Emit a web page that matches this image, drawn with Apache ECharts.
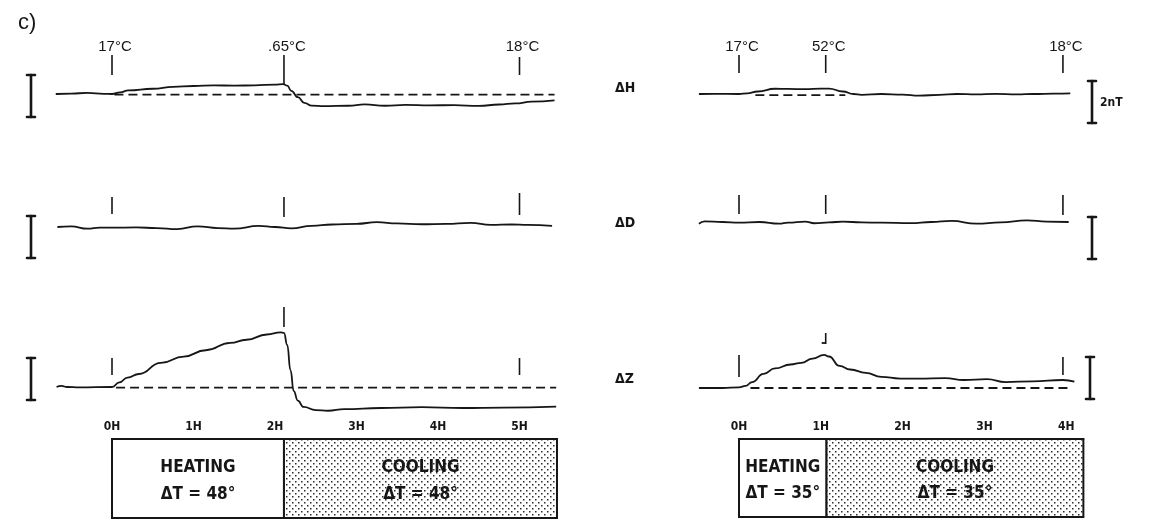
<!DOCTYPE html>
<html>
<head>
<meta charset="utf-8">
<title>Heating / cooling magnetic response</title>
<script src="https://cdn.jsdelivr.net/npm/echarts@6/dist/echarts.min.js"></script>
<style>
  html, body { margin: 0; padding: 0; background: #ffffff; }
  #chart { width: 1167px; height: 528px; }
</style>
</head>
<body>
<div id="chart"></div>
<script>
// ---------------------------------------------------------------------------
// Data: time in hours from the start of heating, field change in nT
// ---------------------------------------------------------------------------

// Left experiment (ΔT = 48°)
const leftH = [
  [-0.69, 0], [-0.5, 0.02], [-0.3, 0.05], [-0.1, 0.01], [0, 0], [0.1, 0.08], [0.2, 0.17],
  [0.5, 0.25], [0.75, 0.34], [1.0, 0.38], [1.25, 0.41], [1.5, 0.40], [1.75, 0.41],
  [2.0, 0.45], [2.1, 0.47], [2.15, 0.4], [2.2, 0.15], [2.28, -0.15], [2.36, -0.42],
  [2.45, -0.55], [2.6, -0.58], [2.9, -0.56], [3.1, -0.49], [3.35, -0.56], [3.6, -0.52],
  [3.9, -0.54], [4.2, -0.53], [4.5, -0.57], [4.75, -0.5], [4.95, -0.45], [5.15, -0.36],
  [5.43, -0.3]
];
const leftD = [
  [-0.67, 0], [-0.5, 0.03], [-0.3, -0.08], [-0.15, -0.03], [0, -0.03], [0.3, -0.02],
  [0.55, -0.05], [0.8, -0.1], [1.05, 0.03], [1.3, -0.05], [1.5, -0.08], [1.8, 0.05],
  [2.0, 0.0], [2.2, -0.07], [2.45, 0.05], [2.7, 0.12], [3.0, 0.15], [3.25, 0.23],
  [3.5, 0.17], [3.8, 0.13], [4.1, 0.15], [4.4, 0.2], [4.65, 0.1], [4.9, 0.12],
  [5.1, 0.1], [5.4, 0.05]
];
const leftZ = [
  [-0.68, 0], [-0.62, 0.05], [-0.55, 0.0], [-0.4, -0.02], [0, 0], [0.09, 0.22],
  [0.19, 0.45], [0.33, 0.62], [0.6, 1.15], [0.88, 1.45], [1.15, 1.75], [1.45, 2.1],
  [1.65, 2.25], [1.9, 2.5], [2.07, 2.6], [2.11, 2.58], [2.15, 2.0], [2.19, 0.8],
  [2.23, -0.2], [2.28, -0.65], [2.35, -0.95], [2.5, -1.1], [2.65, -1.13], [2.85, -1.05],
  [3.3, -1.0], [3.8, -0.96], [4.3, -1.0], [4.8, -0.98], [5.45, -0.93]
];
const leftHRef = [[0.03, -0.03], [5.43, -0.03]];
const leftZRef = [[0.05, -0.03], [5.45, -0.03]];
const leftMarkTimes = [0, 2.11, 5.0];
const leftMarkLabels = ['17°C', '.65°C', '18°C'];
const leftPhaseBounds = [0, 2.11, 5.46];
const leftDeltaT = 48;
const leftHourLabels = ['0H', '1H', '2H', '3H', '4H', '5H'];

// Right experiment (ΔT = 35°)
const rightH = [
  [-0.49, 0], [-0.3, 0.01], [0, 0], [0.1, 0.03], [0.23, 0.12], [0.44, 0.25], [0.6, 0.24],
  [0.81, 0.23], [1.0, 0.26], [1.1, 0.26], [1.27, 0.12], [1.4, 0.0], [1.5, -0.04],
  [1.74, 0.0], [2.0, -0.03], [2.2, -0.08], [2.45, -0.04], [2.66, 0.0], [2.9, -0.02],
  [3.13, 0.01], [3.4, -0.02], [3.6, 0.0], [3.85, 0.02], [4.05, 0.03]
];
const rightD = [
  [-0.49, -0.08], [-0.42, 0.03], [-0.2, 0.0], [0, -0.03], [0.25, 0.0], [0.49, -0.08],
  [0.6, -0.03], [0.81, 0.02], [0.92, -0.06], [1.1, -0.02], [1.27, 0.02], [1.5, -0.02],
  [1.74, -0.03], [2.1, -0.05], [2.35, 0.0], [2.6, 0.05], [2.9, -0.08], [3.2, -0.02],
  [3.52, 0.08], [3.76, 0.02], [4.03, 0.0]
];
const rightZ = [
  [-0.49, 0], [-0.2, 0], [0, 0.03], [0.08, 0.1], [0.16, 0.28], [0.3, 0.67], [0.44, 0.93],
  [0.63, 1.12], [0.76, 1.2], [0.9, 1.4], [1.04, 1.58], [1.1, 1.5], [1.23, 1.05],
  [1.36, 0.88], [1.55, 0.72], [1.74, 0.53], [1.97, 0.45], [2.2, 0.45], [2.52, 0.47],
  [2.75, 0.38], [3.03, 0.42], [3.26, 0.28], [3.59, 0.32], [3.96, 0.38], [4.1, 0.3]
];
const rightHRef = [[0.2, -0.05], [1.3, -0.05]];
const rightZRef = [[0.14, 0], [4.03, 0]];
const rightMarkTimes = [0, 1.06, 3.96];
const rightMarkLabels = ['17°C', '52°C', '18°C'];
const rightPhaseBounds = [0, 1.07, 4.21];
const rightDeltaT = 35;
const rightHourLabels = ['0H', '1H', '2H', '3H', '4H'];

const phaseNames = ['HEATING', 'COOLING'];
const rowNames = ['ΔH', 'ΔD', 'ΔZ'];
const scaleBarNT = 2;
const scaleBarLabel = '2nT';

// ---------------------------------------------------------------------------
// Layout and styling
// ---------------------------------------------------------------------------
const INK = '#161616';
const PX_PER_NT = 21;
const SANS = '"Liberation Sans", Arial, sans-serif';
const COND = '"DejaVu Sans Condensed", "DejaVu Sans", sans-serif';

const panels = [
  {
    x0: 112, pxPerHour: 81.5, xMin: -0.75, xMax: 5.5, barX: 31,
    traces: [leftH, leftD, leftZ], refs: [leftHRef, null, leftZRef],
    markTimes: leftMarkTimes, markLabels: leftMarkLabels,
    phases: leftPhaseBounds, deltaT: leftDeltaT, hourLabels: leftHourLabels,
    rows: [
      { base: 94, yMin: -1.5, yMax: 2.5, marks: [[39, 19], [39, 9], [37, 19]], barBelow: 23 },
      { base: 227, yMin: -2, yMax: 2, marks: [[30, 13], [30, 10], [34, 12]], barBelow: 31 },
      { base: 387, yMin: -1.5, yMax: 3, marks: [[29, 12], [80, 60], [29, 12]], barBelow: 13 }
    ],
    boxTop: 439, boxHeight: 79
  },
  {
    x0: 739, pxPerHour: 81.8, xMin: -0.55, xMax: 4.25, barX: 1092,
    traces: [rightH, rightD, rightZ], refs: [rightHRef, null, rightZRef],
    markTimes: rightMarkTimes, markLabels: rightMarkLabels,
    phases: rightPhaseBounds, deltaT: rightDeltaT, hourLabels: rightHourLabels,
    rows: [
      { base: 94, yMin: -1.5, yMax: 2.5, marks: [[39, 21], [39, 21], [39, 21]], barBelow: 29, barText: true },
      { base: 222, yMin: -2, yMax: 2, marks: [[27, 8], [27, 8], [27, 7]], barBelow: 37 },
      { base: 388, yMin: -1.5, yMax: 3, marks: [[33, 11], [55, 44], [31, 13]], barBelow: 11, hook: 1, barX: 1090 }
    ],
    boxTop: 439, boxHeight: 78
  }
];

// Stippled fill for the cooling phase
const stipple = document.createElement('canvas');
stipple.width = 6; stipple.height = 6;
(function () {
  const g = stipple.getContext('2d');
  g.fillStyle = '#ffffff';
  g.fillRect(0, 0, 6, 6);
  g.fillStyle = 'rgba(20,20,20,0.9)';
  g.fillRect(1, 1, 1.5, 1.5);
  g.fillRect(4, 4, 1.5, 1.5);
})();

// ---------------------------------------------------------------------------
// Build grids, axes and series
// ---------------------------------------------------------------------------
const grids = [], xAxes = [], yAxes = [], series = [];

function addGrid(g, xa, ya) {
  grids.push(Object.assign({ containLabel: false, outerBoundsMode: 'none' }, g));
  const idx = grids.length - 1;
  xAxes.push(Object.assign({ gridIndex: idx, type: 'value' }, xa));
  yAxes.push(Object.assign({ gridIndex: idx, type: 'value' }, ya));
  return idx;
}

panels.forEach(function (p) {
  const gridLeft = p.x0 + p.xMin * p.pxPerHour;
  const gridWidth = (p.xMax - p.xMin) * p.pxPerHour;

  p.rows.forEach(function (r, ri) {
    const idx = addGrid(
      { left: gridLeft, width: gridWidth, top: r.base - r.yMax * PX_PER_NT, height: (r.yMax - r.yMin) * PX_PER_NT },
      { min: p.xMin, max: p.xMax, show: false },
      { min: r.yMin, max: r.yMax, show: false }
    );

    // Recorded trace
    series.push({
      type: 'line', xAxisIndex: idx, yAxisIndex: idx, data: p.traces[ri],
      symbol: 'none', smooth: 0.5, smoothMonotone: 'x', silent: true,
      lineStyle: { color: INK, width: 1.8 }
    });

    // Pre-heating reference level
    if (p.refs[ri]) {
      series.push({
        type: 'line', xAxisIndex: idx, yAxisIndex: idx, data: p.refs[ri],
        symbol: 'none', silent: true,
        lineStyle: { color: INK, width: 1.8, type: [9, 5] }
      });
    }

    // Temperature time marks (labels on the top row only)
    series.push({
      type: 'custom', xAxisIndex: idx, yAxisIndex: idx, silent: true, clip: false,
      data: p.markTimes.map(function (t) { return [t, 0]; }),
      renderItem: function (params, api) {
        const i = params.dataIndex;
        const pt = api.coord([api.value(0), 0]);
        const span = r.marks[i];
        const children = [{
          type: 'line',
          shape: { x1: pt[0], y1: pt[1] - span[0], x2: pt[0], y2: pt[1] - span[1] },
          style: { stroke: INK, lineWidth: 1.6 }
        }];
        if (r.hook === i) {
          children.push({
            type: 'line',
            shape: { x1: pt[0] - 4, y1: pt[1] - span[1] - 1, x2: pt[0], y2: pt[1] - span[1] - 1 },
            style: { stroke: INK, lineWidth: 1.8 }
          });
        }
        if (ri === 0) {
          children.push({
            type: 'text', x: pt[0] + 3, y: pt[1] - 47,
            style: {
              text: p.markLabels[i], fill: INK, font: '15px ' + SANS,
              align: 'center', verticalAlign: 'middle'
            }
          });
        }
        return { type: 'group', children: children };
      }
    });

    // 2 nT scale bar
    series.push({
      type: 'custom', xAxisIndex: idx, yAxisIndex: idx, silent: true, clip: false,
      data: [[p.xMin, 0]],
      renderItem: function (params, api) {
        const zero = api.coord([p.xMin, 0]);
        const len = api.size([0, scaleBarNT])[1];
        const x = r.barX || p.barX;
        const yb = zero[1] + r.barBelow;
        const yt = yb - len;
        const st = { stroke: INK, lineWidth: 2.6, lineCap: 'round' };
        const children = [
          { type: 'line', shape: { x1: x, y1: yt, x2: x, y2: yb }, style: st },
          { type: 'line', shape: { x1: x - 4, y1: yt, x2: x + 4, y2: yt }, style: st },
          { type: 'line', shape: { x1: x - 4, y1: yb, x2: x + 4, y2: yb }, style: st }
        ];
        if (r.barText) {
          children.push({
            type: 'text', x: x + 8, y: (yt + yb) / 2 + 1,
            style: { text: scaleBarLabel, fill: INK, font: 'bold 12px ' + COND, align: 'left', verticalAlign: 'middle' }
          });
        }
        return { type: 'group', children: children };
      }
    });
  });

  // Heating / cooling phase box with hour axis
  const boxEnd = p.phases[p.phases.length - 1];
  const bIdx = addGrid(
    { left: p.x0, width: boxEnd * p.pxPerHour, top: p.boxTop, height: p.boxHeight },
    {
      min: 0, max: boxEnd, interval: 1, position: 'top',
      axisLine: { show: true, onZero: false, lineStyle: { color: INK, width: 2 } },
      axisTick: { show: true, inside: true, length: 4, lineStyle: { color: INK, width: 1.5 } },
      axisLabel: {
        show: true, margin: 6, color: INK, fontSize: 12, fontWeight: 'bold', fontFamily: COND,
        showMaxLabel: false,
        formatter: function (v) { return p.hourLabels[Math.round(v)] || ''; }
      },
      splitLine: { show: false }
    },
    { min: 0, max: 1, show: false }
  );
  const phaseData = [];
  for (let k = 0; k < p.phases.length - 1; k++) phaseData.push([p.phases[k], p.phases[k + 1], k]);
  series.push({
    type: 'custom', xAxisIndex: bIdx, yAxisIndex: bIdx, silent: true, clip: false,
    data: phaseData,
    renderItem: function (params, api) {
      const s = api.value(0), e = api.value(1), k = api.value(2);
      const a = api.coord([s, 1]);
      const b = api.coord([e, 0]);
      const w = b[0] - a[0], h = b[1] - a[1];
      const cx = a[0] + w / 2;
      const textStyle = { fill: INK, font: 'bold 17px ' + COND, align: 'center', verticalAlign: 'middle' };
      return {
        type: 'group',
        children: [
          {
            type: 'rect', shape: { x: a[0], y: a[1], width: w, height: h },
            style: {
              fill: k === 1 ? { image: stipple, repeat: 'repeat' } : '#ffffff',
              stroke: INK, lineWidth: 2
            }
          },
          { type: 'text', x: cx, y: a[1] + h * 0.36, style: Object.assign({ text: phaseNames[k] }, textStyle) },
          { type: 'text', x: cx, y: a[1] + h * 0.70, style: Object.assign({ text: 'ΔT = ' + p.deltaT + '°' }, textStyle) }
        ]
      };
    }
  });
});

// Row labels between the two experiments, and the panel letter
const rowLabelY = [89, 224, 380];
const graphics = rowNames.map(function (name, i) {
  return {
    type: 'text', left: 615, top: rowLabelY[i] - 8,
    style: { text: name, fill: INK, font: 'bold 14px ' + COND }
  };
});
graphics.push({
  type: 'text', left: 18, top: 12,
  style: { text: 'c)', fill: INK, font: '22px ' + SANS }
});

const chart = echarts.init(document.getElementById('chart'), null, { renderer: 'canvas' });
chart.setOption({
  backgroundColor: '#ffffff',
  animation: false,
  grid: grids,
  xAxis: xAxes,
  yAxis: yAxes,
  series: series,
  graphic: graphics
});
</script>
</body>
</html>
